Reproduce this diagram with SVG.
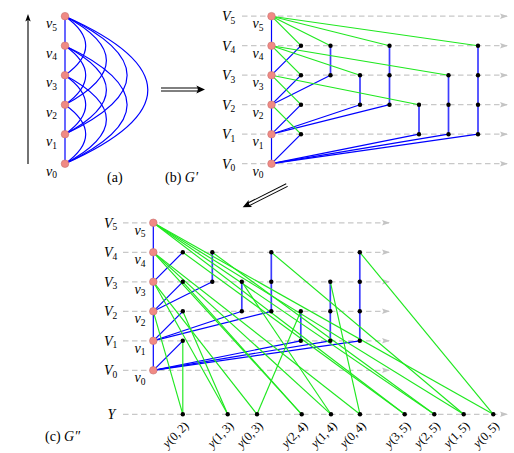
<svg xmlns="http://www.w3.org/2000/svg" width="514" height="453" viewBox="0 0 514 453">
<defs>
<marker id="ga" viewBox="0 0 8 6" refX="7" refY="3" markerWidth="8" markerHeight="6" markerUnits="userSpaceOnUse" orient="auto"><path d="M0,0.3 L8,3 L0,5.7 L1.5,3 Z" fill="#c4c4c4"/></marker>
</defs>
<style>
.dash{stroke:#c8c8c8;stroke-width:1.3;stroke-dasharray:5.5 3.5;fill:none;marker-end:url(#ga)}
.b{stroke:#0000ff;stroke-width:1.2;fill:none}
.bv{stroke:#3c3cff;stroke-width:1.7;fill:none}
.g{stroke:#1fe81f;stroke-width:1.15;fill:none}
.v{fill:#f08a84;stroke:#c87070;stroke-width:0.6}
.d{fill:#000}
text{font-family:"Liberation Serif","DejaVu Serif",serif;font-size:14px;fill:#000}
.i{font-style:italic}
.s{font-size:9.5px;font-style:normal}
.yl{font-size:12.5px}
.dbl1{stroke:#000;stroke-width:4;fill:none}
.dbl2{stroke:#fff;stroke-width:2;fill:none}
</style>

<!-- (a) -->
<g id="a-arrow">
<line x1="28" y1="164" x2="28" y2="19" stroke="#000" stroke-width="1.1"/>
<path d="M28,14 L25.3,21.5 L28,19.8 L30.7,21.5 Z" fill="#000"/>
</g>
<g id="a-edges">
<line class="b" x1="65" y1="16.2" x2="65" y2="163.7"/>
<path class="b" d="M65,16.2 Q106.4,45.7 65,75.2"/>
<path class="b" d="M65,45.7 Q106.4,75.2 65,104.7"/>
<path class="b" d="M65,75.2 Q106.4,104.7 65,134.2"/>
<path class="b" d="M65,104.7 Q106.4,134.2 65,163.7"/>
<path class="b" d="M65,16.2 Q147.8,60.45 65,104.7"/>
<path class="b" d="M65,45.7 Q147.8,89.95 65,134.2"/>
<path class="b" d="M65,75.2 Q147.8,119.45 65,163.7"/>
<path class="b" d="M65,16.2 Q189.2,75.2 65,134.2"/>
<path class="b" d="M65,45.7 Q189.2,104.7 65,163.7"/>
<path class="b" d="M65,16.2 Q230.6,89.95 65,163.7"/>
</g>
<g id="a-v5"><circle class="v" cx="65" cy="16.2" r="3.8"/><text x="46" y="28.2"><tspan class="i">v</tspan><tspan class="s" dy="2.5">5</tspan></text></g>
<g id="a-v4"><circle class="v" cx="65" cy="45.7" r="3.8"/><text x="46" y="57.7"><tspan class="i">v</tspan><tspan class="s" dy="2.5">4</tspan></text></g>
<g id="a-v3"><circle class="v" cx="65" cy="75.2" r="3.8"/><text x="46" y="87.2"><tspan class="i">v</tspan><tspan class="s" dy="2.5">3</tspan></text></g>
<g id="a-v2"><circle class="v" cx="65" cy="104.7" r="3.8"/><text x="46" y="116.7"><tspan class="i">v</tspan><tspan class="s" dy="2.5">2</tspan></text></g>
<g id="a-v1"><circle class="v" cx="65" cy="134.2" r="3.8"/><text x="46" y="146.2"><tspan class="i">v</tspan><tspan class="s" dy="2.5">1</tspan></text></g>
<g id="a-v0"><circle class="v" cx="65" cy="163.7" r="3.8"/><text x="46" y="175.7"><tspan class="i">v</tspan><tspan class="s" dy="2.5">0</tspan></text></g>
<text id="cap-a" x="107" y="182">(a)</text>

<!-- double arrow a->b -->
<g id="arrow-ab">
<line class="dbl1" x1="161" y1="89.5" x2="199" y2="89.5"/>
<line class="dbl2" x1="160" y1="89.5" x2="200" y2="89.5"/>
<path d="M205,89.5 L196.3,85.6 Q199.3,89.5 196.3,93.4 Z" fill="#000"/>
</g>

<!-- (b) -->
<g id="b-dashes">
<line class="dash" x1="242" y1="16.2" x2="507" y2="16.2"/>
<line class="dash" x1="242" y1="45.7" x2="507" y2="45.7"/>
<line class="dash" x1="242" y1="75.2" x2="507" y2="75.2"/>
<line class="dash" x1="242" y1="104.7" x2="507" y2="104.7"/>
<line class="dash" x1="242" y1="134.2" x2="507" y2="134.2"/>
<line class="dash" x1="242" y1="163.7" x2="507" y2="163.7"/>
</g>
<g id="b-edges">
<line class="b" x1="271.5" y1="16.2" x2="271.5" y2="163.7"/>
<line class="b" x1="271.5" y1="75.2" x2="301" y2="45.7"/>
<line class="b" x1="271.5" y1="104.7" x2="301" y2="75.2"/>
<line class="b" x1="271.5" y1="104.7" x2="330.5" y2="75.2"/>
<line class="b" x1="271.5" y1="134.2" x2="301" y2="104.7"/>
<line class="b" x1="271.5" y1="134.2" x2="360" y2="104.7"/>
<line class="b" x1="271.5" y1="134.2" x2="389.5" y2="104.7"/>
<line class="b" x1="271.5" y1="163.7" x2="301" y2="134.2"/>
<line class="b" x1="271.5" y1="163.7" x2="419" y2="134.2"/>
<line class="b" x1="271.5" y1="163.7" x2="448.5" y2="134.2"/>
<line class="b" x1="271.5" y1="163.7" x2="478" y2="134.2"/>
<line class="bv" x1="330.5" y1="75.2" x2="330.5" y2="45.7"/>
<line class="bv" x1="360" y1="104.7" x2="360" y2="75.2"/>
<line class="bv" x1="389.5" y1="104.7" x2="389.5" y2="45.7"/>
<line class="bv" x1="419" y1="134.2" x2="419" y2="104.7"/>
<line class="bv" x1="448.5" y1="134.2" x2="448.5" y2="75.2"/>
<line class="bv" x1="478" y1="134.2" x2="478" y2="45.7"/>
<line class="g" x1="301" y1="134.2" x2="271.5" y2="104.7"/>
<line class="g" x1="301" y1="104.7" x2="271.5" y2="75.2"/>
<line class="g" x1="419" y1="104.7" x2="271.5" y2="75.2"/>
<line class="g" x1="301" y1="75.2" x2="271.5" y2="45.7"/>
<line class="g" x1="360" y1="75.2" x2="271.5" y2="45.7"/>
<line class="g" x1="448.5" y1="75.2" x2="271.5" y2="45.7"/>
<line class="g" x1="301" y1="45.7" x2="271.5" y2="16.2"/>
<line class="g" x1="330.5" y1="45.7" x2="271.5" y2="16.2"/>
<line class="g" x1="389.5" y1="45.7" x2="271.5" y2="16.2"/>
<line class="g" x1="478" y1="45.7" x2="271.5" y2="16.2"/>
</g>
<g id="b-dots">
<circle class="d" cx="301" cy="45.7" r="2.2"/><circle class="d" cx="301" cy="75.2" r="2.2"/><circle class="d" cx="301" cy="104.7" r="2.2"/><circle class="d" cx="301" cy="134.2" r="2.2"/>
<circle class="d" cx="330.5" cy="45.7" r="2.2"/><circle class="d" cx="330.5" cy="75.2" r="2.2"/>
<circle class="d" cx="360" cy="75.2" r="2.2"/><circle class="d" cx="360" cy="104.7" r="2.2"/>
<circle class="d" cx="389.5" cy="45.7" r="2.2"/><circle class="d" cx="389.5" cy="75.2" r="2.2"/><circle class="d" cx="389.5" cy="104.7" r="2.2"/>
<circle class="d" cx="419" cy="104.7" r="2.2"/><circle class="d" cx="419" cy="134.2" r="2.2"/>
<circle class="d" cx="448.5" cy="75.2" r="2.2"/><circle class="d" cx="448.5" cy="104.7" r="2.2"/><circle class="d" cx="448.5" cy="134.2" r="2.2"/>
<circle class="d" cx="478" cy="45.7" r="2.2"/><circle class="d" cx="478" cy="75.2" r="2.2"/><circle class="d" cx="478" cy="104.7" r="2.2"/><circle class="d" cx="478" cy="134.2" r="2.2"/>
</g>
<g id="b-v5"><circle class="v" cx="271.5" cy="16.2" r="3.8"/><text x="222" y="21"><tspan class="i">V</tspan><tspan class="s" dy="2.5">5</tspan></text><text x="252.5" y="28.2"><tspan class="i">v</tspan><tspan class="s" dy="2.5">5</tspan></text></g>
<g id="b-v4"><circle class="v" cx="271.5" cy="45.7" r="3.8"/><text x="222" y="50.5"><tspan class="i">V</tspan><tspan class="s" dy="2.5">4</tspan></text><text x="252.5" y="57.7"><tspan class="i">v</tspan><tspan class="s" dy="2.5">4</tspan></text></g>
<g id="b-v3"><circle class="v" cx="271.5" cy="75.2" r="3.8"/><text x="222" y="80"><tspan class="i">V</tspan><tspan class="s" dy="2.5">3</tspan></text><text x="252.5" y="87.2"><tspan class="i">v</tspan><tspan class="s" dy="2.5">3</tspan></text></g>
<g id="b-v2"><circle class="v" cx="271.5" cy="104.7" r="3.8"/><text x="222" y="109.5"><tspan class="i">V</tspan><tspan class="s" dy="2.5">2</tspan></text><text x="252.5" y="116.7"><tspan class="i">v</tspan><tspan class="s" dy="2.5">2</tspan></text></g>
<g id="b-v1"><circle class="v" cx="271.5" cy="134.2" r="3.8"/><text x="222" y="139"><tspan class="i">V</tspan><tspan class="s" dy="2.5">1</tspan></text><text x="252.5" y="146.2"><tspan class="i">v</tspan><tspan class="s" dy="2.5">1</tspan></text></g>
<g id="b-v0"><circle class="v" cx="271.5" cy="163.7" r="3.8"/><text x="222" y="168.5"><tspan class="i">V</tspan><tspan class="s" dy="2.5">0</tspan></text><text x="252.5" y="175.7"><tspan class="i">v</tspan><tspan class="s" dy="2.5">0</tspan></text></g>
<text id="cap-b" x="165" y="182">(b) <tspan class="i">G′</tspan></text>

<!-- double arrow b->c -->
<g id="arrow-bc" transform="translate(242.7,207.3) rotate(153.3)">
<line class="dbl1" x1="-49.5" y1="0" x2="-6" y2="0"/>
<line class="dbl2" x1="-50.5" y1="0" x2="-5" y2="0"/>
<path d="M0,0 L-8.7,-3.9 Q-5.7,0 -8.7,3.9 Z" fill="#000"/>
</g>

<!-- (c) -->
<g id="c-dashes">
<line class="dash" x1="123" y1="222.8" x2="389" y2="222.8"/>
<line class="dash" x1="123" y1="252.3" x2="389" y2="252.3"/>
<line class="dash" x1="123" y1="281.8" x2="389" y2="281.8"/>
<line class="dash" x1="123" y1="311.3" x2="389" y2="311.3"/>
<line class="dash" x1="123" y1="340.8" x2="389" y2="340.8"/>
<line class="dash" x1="123" y1="370.3" x2="389" y2="370.3"/>
<line class="dash" x1="123" y1="414.3" x2="507" y2="414.3"/>
</g>
<g id="c-edges">
<line class="b" x1="153.3" y1="222.8" x2="153.3" y2="370.3"/>
<line class="b" x1="153.3" y1="281.8" x2="182.8" y2="252.3"/>
<line class="b" x1="153.3" y1="311.3" x2="182.8" y2="281.8"/>
<line class="b" x1="153.3" y1="311.3" x2="212.3" y2="281.8"/>
<line class="b" x1="153.3" y1="340.8" x2="182.8" y2="311.3"/>
<line class="b" x1="153.3" y1="340.8" x2="241.8" y2="311.3"/>
<line class="b" x1="153.3" y1="340.8" x2="271.3" y2="311.3"/>
<line class="b" x1="153.3" y1="370.3" x2="182.8" y2="340.8"/>
<line class="b" x1="153.3" y1="370.3" x2="300.8" y2="340.8"/>
<line class="b" x1="153.3" y1="370.3" x2="330.3" y2="340.8"/>
<line class="b" x1="153.3" y1="370.3" x2="359.8" y2="340.8"/>
<line class="bv" x1="212.3" y1="281.8" x2="212.3" y2="252.3"/>
<line class="bv" x1="241.8" y1="311.3" x2="241.8" y2="281.8"/>
<line class="bv" x1="271.3" y1="311.3" x2="271.3" y2="252.3"/>
<line class="bv" x1="300.8" y1="340.8" x2="300.8" y2="311.3"/>
<line class="bv" x1="330.3" y1="340.8" x2="330.3" y2="281.8"/>
<line class="bv" x1="359.8" y1="340.8" x2="359.8" y2="252.3"/>
<line class="g" x1="182.8" y1="340.8" x2="182.8" y2="414.3"/>
<line class="g" x1="153.3" y1="311.3" x2="182.8" y2="414.3"/>
<line class="g" x1="182.8" y1="311.3" x2="227.7" y2="414.3"/>
<line class="g" x1="153.3" y1="281.8" x2="227.7" y2="414.3"/>
<line class="g" x1="300.8" y1="311.3" x2="257" y2="414.3"/>
<line class="g" x1="153.3" y1="281.8" x2="257" y2="414.3"/>
<line class="g" x1="182.8" y1="281.8" x2="301.7" y2="414.3"/>
<line class="g" x1="153.3" y1="252.3" x2="301.7" y2="414.3"/>
<line class="g" x1="241.8" y1="281.8" x2="331" y2="414.3"/>
<line class="g" x1="153.3" y1="252.3" x2="331" y2="414.3"/>
<line class="g" x1="330.3" y1="281.8" x2="360" y2="414.3"/>
<line class="g" x1="153.3" y1="252.3" x2="360" y2="414.3"/>
<line class="g" x1="182.8" y1="252.3" x2="404.7" y2="414.3"/>
<line class="g" x1="153.3" y1="222.8" x2="404.7" y2="414.3"/>
<line class="g" x1="212.3" y1="252.3" x2="434.3" y2="414.3"/>
<line class="g" x1="153.3" y1="222.8" x2="434.3" y2="414.3"/>
<line class="g" x1="271.3" y1="252.3" x2="463.7" y2="414.3"/>
<line class="g" x1="153.3" y1="222.8" x2="463.7" y2="414.3"/>
<line class="g" x1="359.8" y1="252.3" x2="493.3" y2="414.3"/>
<line class="g" x1="153.3" y1="222.8" x2="493.3" y2="414.3"/>
</g>
<g id="c-dots">
<circle class="d" cx="182.8" cy="252.3" r="2.2"/><circle class="d" cx="182.8" cy="281.8" r="2.2"/><circle class="d" cx="182.8" cy="311.3" r="2.2"/><circle class="d" cx="182.8" cy="340.8" r="2.2"/>
<circle class="d" cx="212.3" cy="252.3" r="2.2"/><circle class="d" cx="212.3" cy="281.8" r="2.2"/>
<circle class="d" cx="241.8" cy="281.8" r="2.2"/><circle class="d" cx="241.8" cy="311.3" r="2.2"/>
<circle class="d" cx="271.3" cy="252.3" r="2.2"/><circle class="d" cx="271.3" cy="281.8" r="2.2"/><circle class="d" cx="271.3" cy="311.3" r="2.2"/>
<circle class="d" cx="300.8" cy="311.3" r="2.2"/><circle class="d" cx="300.8" cy="340.8" r="2.2"/>
<circle class="d" cx="330.3" cy="281.8" r="2.2"/><circle class="d" cx="330.3" cy="311.3" r="2.2"/><circle class="d" cx="330.3" cy="340.8" r="2.2"/>
<circle class="d" cx="359.8" cy="252.3" r="2.2"/><circle class="d" cx="359.8" cy="281.8" r="2.2"/><circle class="d" cx="359.8" cy="311.3" r="2.2"/><circle class="d" cx="359.8" cy="340.8" r="2.2"/>
</g>
<g id="c-v5"><circle class="v" cx="153.3" cy="222.8" r="3.8"/><text x="104" y="227.6"><tspan class="i">V</tspan><tspan class="s" dy="2.5">5</tspan></text><text x="134.5" y="234.8"><tspan class="i">v</tspan><tspan class="s" dy="2.5">5</tspan></text></g>
<g id="c-v4"><circle class="v" cx="153.3" cy="252.3" r="3.8"/><text x="104" y="257.1"><tspan class="i">V</tspan><tspan class="s" dy="2.5">4</tspan></text><text x="134.5" y="264.3"><tspan class="i">v</tspan><tspan class="s" dy="2.5">4</tspan></text></g>
<g id="c-v3"><circle class="v" cx="153.3" cy="281.8" r="3.8"/><text x="104" y="286.6"><tspan class="i">V</tspan><tspan class="s" dy="2.5">3</tspan></text><text x="134.5" y="293.8"><tspan class="i">v</tspan><tspan class="s" dy="2.5">3</tspan></text></g>
<g id="c-v2"><circle class="v" cx="153.3" cy="311.3" r="3.8"/><text x="104" y="316.1"><tspan class="i">V</tspan><tspan class="s" dy="2.5">2</tspan></text><text x="134.5" y="323.3"><tspan class="i">v</tspan><tspan class="s" dy="2.5">2</tspan></text></g>
<g id="c-v1"><circle class="v" cx="153.3" cy="340.8" r="3.8"/><text x="104" y="345.6"><tspan class="i">V</tspan><tspan class="s" dy="2.5">1</tspan></text><text x="134.5" y="352.8"><tspan class="i">v</tspan><tspan class="s" dy="2.5">1</tspan></text></g>
<g id="c-v0"><circle class="v" cx="153.3" cy="370.3" r="3.8"/><text x="104" y="375.1"><tspan class="i">V</tspan><tspan class="s" dy="2.5">0</tspan></text><text x="134.5" y="382.3"><tspan class="i">v</tspan><tspan class="s" dy="2.5">0</tspan></text></g>
<text id="lab-Y" class="i" x="107.5" y="418.8">Y</text>
<g id="y02"><circle class="d" cx="182.8" cy="414.3" r="2.2"/><text class="yl" text-anchor="end" transform="translate(189.5,426.5) rotate(-45)"><tspan class="i">y</tspan>(0,<tspan dx="1.5">2)</tspan></text></g>
<g id="y13"><circle class="d" cx="227.7" cy="414.3" r="2.2"/><text class="yl" text-anchor="end" transform="translate(234.4,426.5) rotate(-45)"><tspan class="i">y</tspan>(1,<tspan dx="1.5">3)</tspan></text></g>
<g id="y03"><circle class="d" cx="257" cy="414.3" r="2.2"/><text class="yl" text-anchor="end" transform="translate(263.7,426.5) rotate(-45)"><tspan class="i">y</tspan>(0,<tspan dx="1.5">3)</tspan></text></g>
<g id="y24"><circle class="d" cx="301.7" cy="414.3" r="2.2"/><text class="yl" text-anchor="end" transform="translate(308.4,426.5) rotate(-45)"><tspan class="i">y</tspan>(2,<tspan dx="1.5">4)</tspan></text></g>
<g id="y14"><circle class="d" cx="331" cy="414.3" r="2.2"/><text class="yl" text-anchor="end" transform="translate(337.7,426.5) rotate(-45)"><tspan class="i">y</tspan>(1,<tspan dx="1.5">4)</tspan></text></g>
<g id="y04"><circle class="d" cx="360" cy="414.3" r="2.2"/><text class="yl" text-anchor="end" transform="translate(366.7,426.5) rotate(-45)"><tspan class="i">y</tspan>(0,<tspan dx="1.5">4)</tspan></text></g>
<g id="y35"><circle class="d" cx="404.7" cy="414.3" r="2.2"/><text class="yl" text-anchor="end" transform="translate(411.4,426.5) rotate(-45)"><tspan class="i">y</tspan>(3,<tspan dx="1.5">5)</tspan></text></g>
<g id="y25"><circle class="d" cx="434.3" cy="414.3" r="2.2"/><text class="yl" text-anchor="end" transform="translate(441,426.5) rotate(-45)"><tspan class="i">y</tspan>(2,<tspan dx="1.5">5)</tspan></text></g>
<g id="y15"><circle class="d" cx="463.7" cy="414.3" r="2.2"/><text class="yl" text-anchor="end" transform="translate(470.4,426.5) rotate(-45)"><tspan class="i">y</tspan>(1,<tspan dx="1.5">5)</tspan></text></g>
<g id="y05"><circle class="d" cx="493.3" cy="414.3" r="2.2"/><text class="yl" text-anchor="end" transform="translate(500,426.5) rotate(-45)"><tspan class="i">y</tspan>(0,<tspan dx="1.5">5)</tspan></text></g>
<text id="cap-c" x="45" y="441">(c) <tspan class="i">G″</tspan></text>
</svg>
